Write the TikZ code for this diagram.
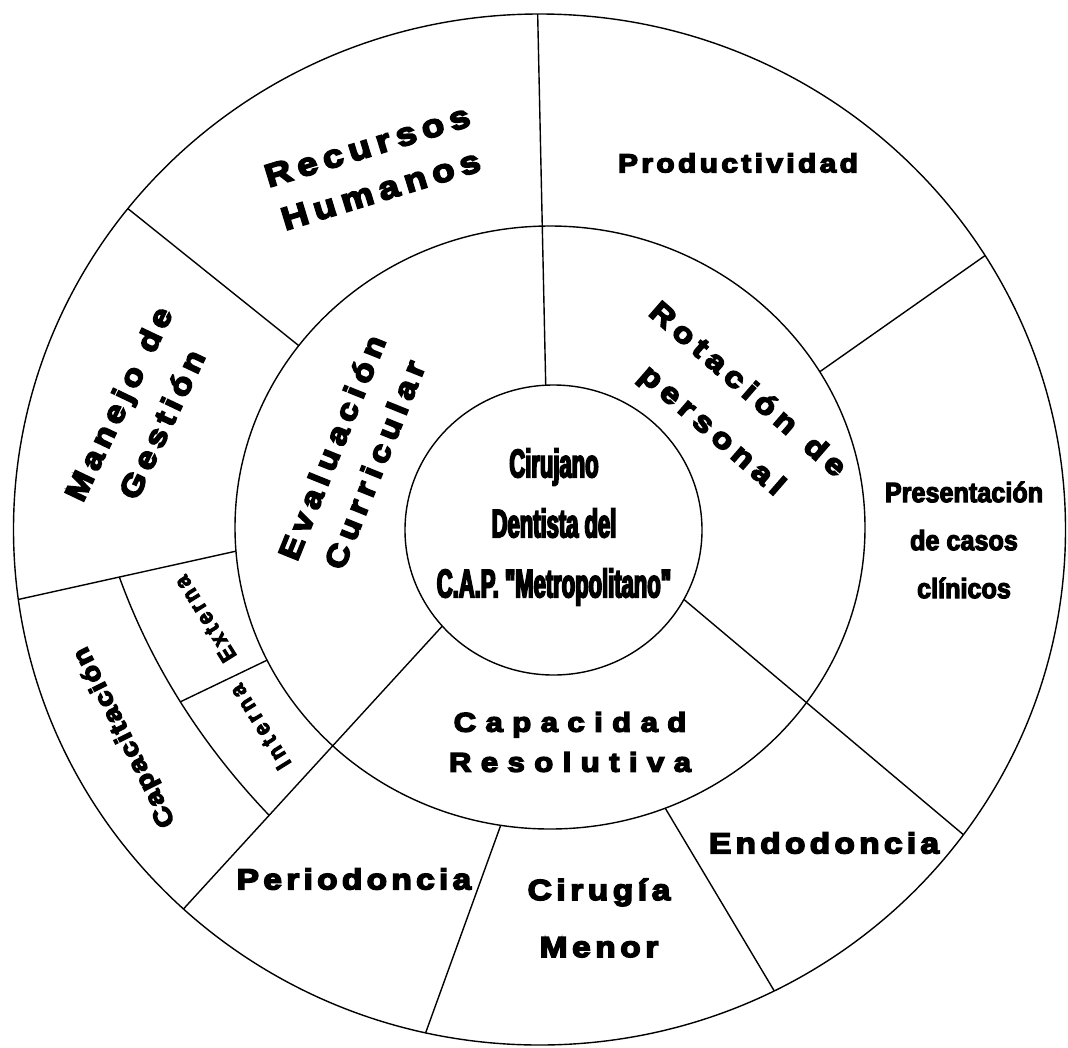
\documentclass[tikz,border=0pt]{standalone}
\usepackage{fontspec}
\setmainfont{Liberation Sans}
\usetikzlibrary{calc}
% wide letter-spaced heavy labels: size, baselineskip, letterspace
\newcommand\WF[3]{\fontspec{Liberation Sans}[LetterSpace=#3,BoldFeatures={FakeBold=5.5,FakeStretch=1.15}]\bfseries\fontsize{#1}{#2}\selectfont}
% condensed labels: size, baselineskip, stretch, letterspace
\newcommand\NF[4]{\fontspec{Liberation Sans}[LetterSpace=#4,BoldFeatures={FakeStretch=#3,FakeBold=4}]\bfseries\fontsize{#1}{#2}\selectfont}
\begin{document}
\begin{tikzpicture}[x=1pt,y=-1pt,line width=1.4pt,
  lab/.style={align=center,inner sep=0pt}]
\useasboundingbox (0,0) rectangle (1068,1047);
% centres of the three rings
\coordinate (O) at (539.5,529.5);
\coordinate (M) at (550,527.5);
\coordinate (I) at (553.5,530);
\draw (O) ellipse [x radius=526pt, y radius=515.5pt];
\draw (M) ellipse [x radius=315pt, y radius=301.5pt];
\draw (I) ellipse [x radius=148.5pt, y radius=145pt];
% points on the rings
\coordinate (o1) at ($(O)+(90.2:526pt and 515.5pt)$);
\coordinate (o2) at ($(O)+(32.1:526pt and 515.5pt)$);
\coordinate (o3) at ($(O)+(-36.3:526pt and 515.5pt)$);
\coordinate (o4) at ($(O)+(-132.6:526pt and 515.5pt)$);
\coordinate (o5) at ($(O)+(-102.5:526pt and 515.5pt)$);
\coordinate (o6) at ($(O)+(-63.5:526pt and 515.5pt)$);
\coordinate (o7) at ($(O)+(187.8:526pt and 515.5pt)$);
\coordinate (o8) at ($(O)+(141.5:526pt and 515.5pt)$);
\coordinate (m2) at ($(M)+(31.1:315pt and 301.5pt)$);
\coordinate (m5) at ($(M)+(-99:315pt and 301.5pt)$);
\coordinate (m6) at ($(M)+(-68.55:315pt and 301.5pt)$);
\coordinate (m7) at ($(M)+(184.5:315pt and 301.5pt)$);
\coordinate (m8) at ($(M)+(142.9:315pt and 301.5pt)$);
\coordinate (m9) at ($(M)+(206.1:315pt and 301.5pt)$);
\coordinate (i1) at ($(I)+(93:148.5pt and 145pt)$);
\coordinate (i3) at ($(I)+(-28.6:148.5pt and 145pt)$);
\coordinate (i4) at ($(I)+(-138.5:148.5pt and 145pt)$);
% dividing lines
\draw (o1) -- (i1);
\draw (o2) -- (m2);
\draw (i3) -- (o3);
\draw (i4) -- (o4);
\draw (m5) -- (o5);
\draw (m6) -- (o6);
\draw (o7) -- (m7);
\draw (o8) -- (m8);
% Capacitacion sub-division
\coordinate (A) at ($(o7)!0.464!(m7)$);
\coordinate (C) at ($(i4)!0.669!(o4)$);
\draw (A) .. controls (150.7,663.7) and (200.7,743.7) .. (C) coordinate[pos=0.5] (B);
\draw (B) -- (m9);
% labels
\node[lab,font=\WF{32}{46}{20},rotate=17] (rh) at (374,168) {Recursos\\Humanos};
\node[lab,font=\WF{26}{30}{13}] (prod) at (738,163) {Productividad};
\node[lab,font=\WF{30}{48}{18},rotate=64.5] (mg) at (140,414) {Manejo\hspace{4pt} de\\Gestión};
\node[lab,font=\WF{30}{46}{21},rotate=68] (ec) at (353,456) {Evaluación\\Curricular};
\node[lab,font=\WF{29}{54}{21},rotate=-41] (rp) at (729,411) {Rotación\hspace{4pt} de\\personal};
\node[lab,font=\NF{28}{48}{0.9}{0}] (pc) at (964,540) {Presentación\\de casos\\clínicos};
\node[lab,font=\NF{40}{60}{0.55}{0}] (cd) at (554,527) {Cirujano\\Dentista del\\C.A.P. "Metropolitano"};
\node[lab,font=\WF{27}{40}{35}] (cr) at (570,742) {Capacidad\\Resolutiva};
\node[lab,font=\WF{29}{30}{15}] (per) at (354,879) {Periodoncia};
\node[lab,font=\WF{29}{57}{16}] (cm) at (599,918) {Cirugía\\Menor};
\node[lab,font=\WF{29}{30}{15}] (endo) at (824,843) {Endodoncia};
\node[lab,font=\WF{25}{26}{7},rotate=116.7] (cap) at (125,737) {Capacitación};
\node[lab,font=\NF{23}{20}{0.9}{15},rotate=122] (ext) at (205,619) {Externa};
\node[lab,font=\NF{23}{20}{0.9}{19},rotate=122] (int) at (260,727) {Interna};
\end{tikzpicture}
\end{document}
